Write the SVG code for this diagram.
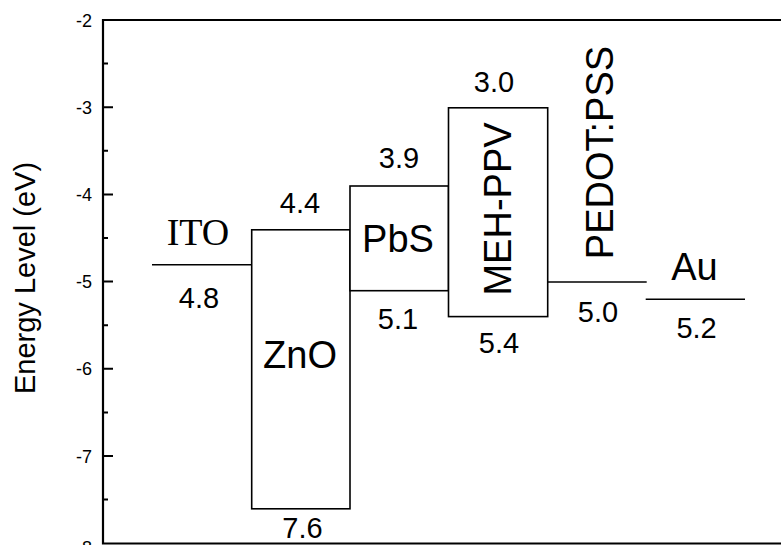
<svg xmlns="http://www.w3.org/2000/svg" width="781" height="545" viewBox="0 0 781 545">
<style>
  .frame { stroke: #000; stroke-width: 2.2; fill: none; }
  .tick { stroke: #000; stroke-width: 2; }
  .lvl { stroke: #000; stroke-width: 1.6; fill: none; }
  .box { stroke: #000; stroke-width: 1.6; fill: #fff; }
  .tl { font-family: "Liberation Sans", Arial, sans-serif; font-size: 18px; text-anchor: end; fill: #000; }
  .num { font-family: "Liberation Sans", Arial, sans-serif; font-size: 29px; text-anchor: middle; fill: #000; }
  .lab { font-family: "Liberation Sans", Arial, sans-serif; font-size: 38px; text-anchor: middle; fill: #000; }
  .serif { font-family: "Liberation Serif", "Times New Roman", serif; font-size: 38px; text-anchor: middle; fill: #000; }
  .axt { font-family: "Liberation Sans", Arial, sans-serif; font-size: 29px; text-anchor: middle; fill: #000; }
</style>
<rect width="781" height="545" fill="#fff"/>
<g id="axis">
  <path class="frame" d="M781 20 H103 V543.5 H781"/>
  <path class="tick" d="M103 107.2 H113 M103 194.4 H113 M103 281.6 H113 M103 368.8 H113 M103 456 H113 M103 63.6 H108 M103 150.8 H108 M103 238 H108 M103 325.2 H108 M103 412.4 H108 M103 499.6 H108"/>
  <text class="tl" x="92" y="26.5">-2</text>
  <text class="tl" x="92" y="113.7">-3</text>
  <text class="tl" x="92" y="200.9">-4</text>
  <text class="tl" x="92" y="288.1">-5</text>
  <text class="tl" x="92" y="375.3">-6</text>
  <text class="tl" x="92" y="462.5">-7</text>
  <text class="tl" x="92" y="554">-8</text>
  <text class="axt" transform="translate(35 278) rotate(-90)">Energy Level (eV)</text>
</g>
<g id="connectors"></g>
<g id="ITO">
  <line class="lvl" x1="152" y1="264.8" x2="251.7" y2="264.8"/>
  <text class="serif" x="198" y="245">ITO</text>
  <text class="num" x="199" y="308">4.8</text>
</g>
<g id="ZnO">
  <rect class="box" x="251.7" y="229.8" width="98.3" height="279"/>
  <text class="num" x="300" y="213">4.4</text>
  <text class="lab" x="300" y="368">ZnO</text>
  <text class="num" x="302.5" y="538">7.6</text>
</g>
<g id="PbS">
  <rect class="box" x="350" y="186" width="98.5" height="104.7"/>
  <text class="num" x="399" y="168">3.9</text>
  <text class="lab" x="398" y="251.7">PbS</text>
  <text class="num" x="398" y="329">5.1</text>
</g>
<g id="MEH-PPV">
  <rect class="box" x="448.5" y="107.8" width="99.2" height="208.8"/>
  <text class="num" x="494" y="92">3.0</text>
  <text class="lab" transform="translate(511 209) rotate(-90)">MEH-PPV</text>
  <text class="num" x="499" y="353">5.4</text>
</g>
<g id="PEDOT-PSS">
  <line class="lvl" x1="547.7" y1="282" x2="646.7" y2="282"/>
  <text class="lab" transform="translate(612.5 152.5) rotate(-90)">PEDOT:PSS</text>
  <text class="num" x="598" y="322">5.0</text>
</g>
<g id="Au">
  <line class="lvl" x1="645.7" y1="299.3" x2="745" y2="299.3"/>
  <text class="lab" x="694.5" y="280">Au</text>
  <text class="num" x="696.6" y="338">5.2</text>
</g>
</svg>
